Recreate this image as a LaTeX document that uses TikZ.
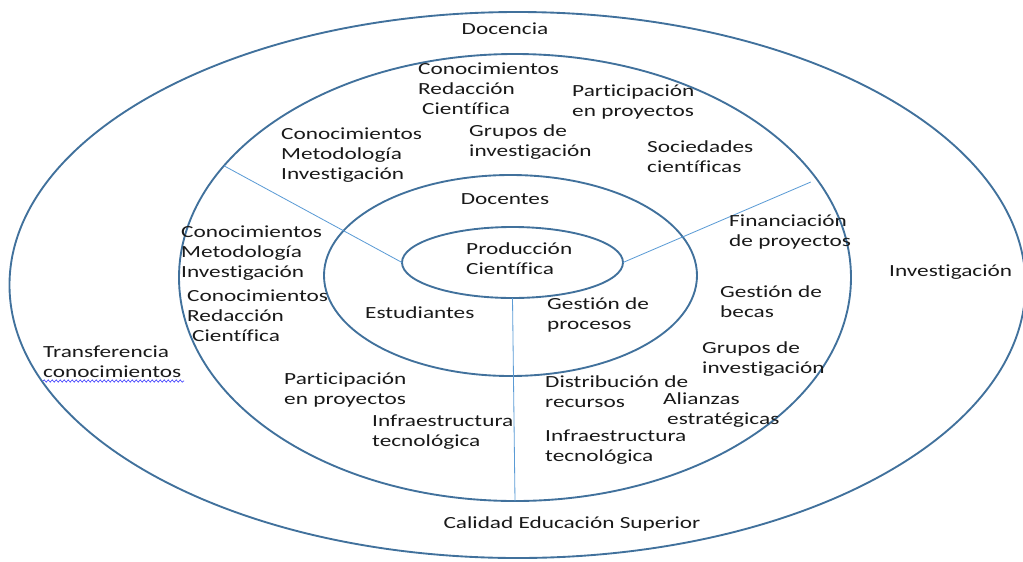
\documentclass[tikz,border=0pt]{standalone}
\usepackage{fontspec}
\setmainfont{Carlito}[FakeStretch=1.37, Ligatures=NoCommon]
\usepackage{xcolor}
\usetikzlibrary{shapes.geometric, decorations.pathmorphing}

\definecolor{ringblue}{HTML}{41719C}
\definecolor{spokeblue}{HTML}{5B9BD5}

\begin{document}
\begin{tikzpicture}[
    x=0.3mm, y=-0.3mm,
    ring/.style={ellipse, draw=ringblue, line width=1.6pt, inner sep=0pt, outer sep=0pt},
    spoke/.style={draw=spokeblue, line width=0.7pt},
    lbl/.style={anchor=west, align=left, inner sep=0pt, text=black!90, font=\fontsize{14.5}{17}\selectfont},
    title/.style={lbl, anchor=center, align=center}
]
\useasboundingbox (0,0) rectangle (1023,561);

% rings
\node[ring, minimum width=304.8mm, minimum height=163.8mm] (outer) at (517.5,285) {};
\node[ring, minimum width=201.6mm, minimum height=134.1mm] (mid) at (515,277.5) {};
\node[ring, minimum width=111.9mm, minimum height=60.3mm] (inner) at (510.5,275.5) {};
\node[ring, minimum width=66.3mm, minimum height=21.3mm] (core) at (512.5,262.5) {};

% spokes
\draw[spoke] (mid.159.5) -- (core.west);
\draw[spoke, shorten <=2mm] (mid.18.6) -- (core.east);
\draw[spoke] (core.south) -- (mid.south);

% outer band
\node[title] (docencia) at (505,29) {Docencia};
\node[lbl] (investigacion) at (889,272) {Investigación};
\node[lbl] (transferencia) at (43,361.5) {Transferencia\\conocimientos};
\node[title] (calidad) at (572,524) {Calidad Educación Superior};
\draw[blue!80, line width=0.5pt, decorate, decoration={snake, amplitude=0.35mm, segment length=1.2mm}]
    (43,381) -- (184,381);

% middle band, upper part
\node[lbl] (redaccionA) at (418,89) {Conocimientos\\Redacción\\\hspace{1.2mm}Científica};
\node[lbl] (participacionA) at (572,102) {Participación\\en proyectos};
\node[lbl] (metodologiaA) at (281,155) {Conocimientos\\Metodología\\Investigación};
\node[lbl] (gruposA) at (469,142) {Grupos de\\investigación};
\node[lbl] (sociedades) at (647,156.5) {Sociedades\\científicas};

% middle band, left part
\node[lbl] (metodologiaB) at (181,253) {Conocimientos\\Metodología\\Investigación};
\node[lbl] (redaccionB) at (187,316) {Conocimientos\\Redacción\\\hspace{1.5mm}Científica};
\node[lbl] (participacionB) at (284,390) {Participación\\en proyectos};
\node[lbl] (infraA) at (372,432) {Infraestructura\\tecnológica};

% middle band, right part
\node[lbl] (financiacion) at (729,232) {Financiación\\de proyectos};
\node[lbl] (becas) at (720,302) {Gestión de\\becas};
\node[lbl] (gruposB) at (702,359) {Grupos de\\investigación};
\node[lbl] (distribucion) at (545,392) {Distribución de\\recursos};
\node[lbl] (alianzas) at (663,410) {Alianzas\\\hspace{1.2mm}estratégicas};
\node[lbl] (infraB) at (545,447) {Infraestructura\\tecnológica};

% inner ring
\node[title] (docentes) at (505,199) {Docentes};
\node[lbl] (estudiantes) at (365,313) {Estudiantes};
\node[lbl] (procesos) at (547,315) {Gestión de\\procesos};

% core
\node[lbl] (produccion) at (466,259) {Producción\\Científica};
\end{tikzpicture}
\end{document}
